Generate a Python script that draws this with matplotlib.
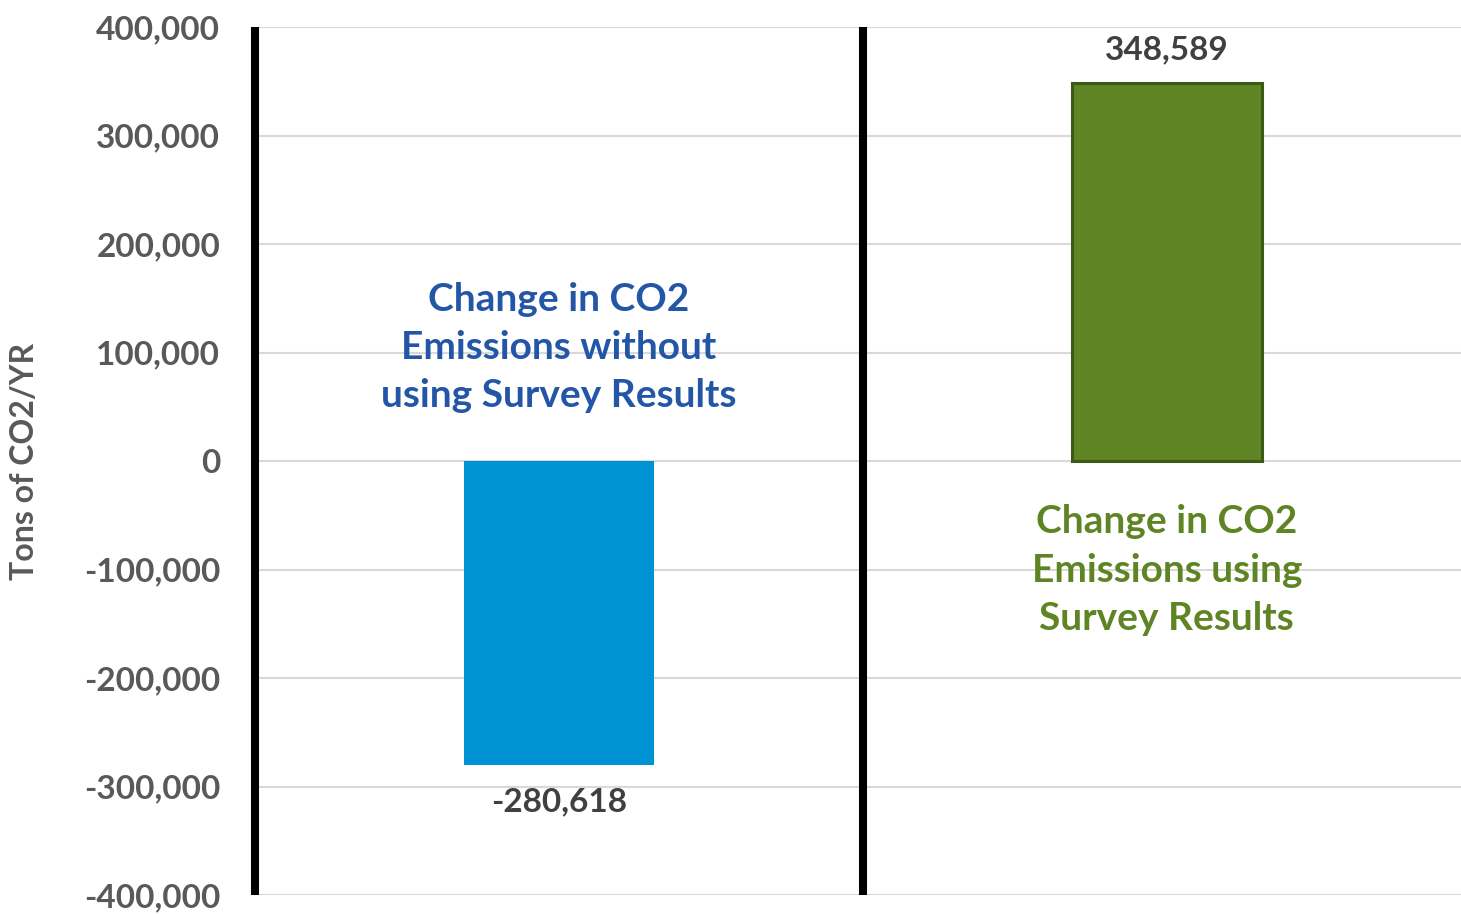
import matplotlib
matplotlib.use("Agg")
import matplotlib.pyplot as plt
from matplotlib.ticker import FuncFormatter

categories = ["Change in CO2\nEmissions without\nusing Survey Results",
              "Change in CO2\nEmissions using\nSurvey Results"]
values = [-280618, 348589]
bar_colors = ["#0093D3", "#5E8424"]
edge_colors = ["#0093D3", "#3B5A17"]
edge_widths = [0, 2.2]
text_colors = ["#2356A6", "#5E8424"]
yticks = list(range(-400000, 400001, 100000))

plt.rcParams['font.family'] = ['Lato', 'DejaVu Sans']
plt.rcParams['font.weight'] = 'bold'

fig = plt.figure(figsize=(14.61, 9.14), dpi=100)
W, H = 1461, 914
ax = fig.add_axes([255 / W, (H - 895) / H, (1461 - 255) / W, (895 - 27) / H])

x = [0, 1]
for xi, v, c, ec, lw in zip(x, values, bar_colors, edge_colors, edge_widths):
    ax.bar(xi, v, width=0.3125, color=c, edgecolor=ec, linewidth=lw, zorder=3)

ax.set_xlim(-0.5, 1.484)
ax.set_ylim(-400000, 400000)
ax.set_yticks(yticks)
ax.yaxis.set_major_formatter(FuncFormatter(lambda v, p: f"{int(v):,}"))
ax.grid(axis='y', color='#D9D9D9', linewidth=1.5, zorder=0)
ax.set_xticks([])
ax.tick_params(axis='y', length=0, pad=25, labelsize=24, labelcolor='#595959')
for lab in ax.get_yticklabels():
    lab.set_fontweight('bold')

for s in ['top', 'right', 'bottom']:
    ax.spines[s].set_visible(False)
ax.spines['left'].set_linewidth(5.8)
ax.spines['left'].set_color('black')
ax.spines['left'].set_capstyle('butt')
ax.spines['left'].set_zorder(5)
ax.axvline(0.5, color='black', linewidth=5.8, zorder=5, solid_capstyle='butt')

ax.set_ylabel("Tons of CO2/YR", fontsize=23, color='#595959', fontweight='bold', labelpad=32)

# data labels
ax.text(0, values[0] - 20000, f"{values[0]:,}", ha='center', va='top',
        fontsize=24, color='#404040', fontweight='bold')
ax.text(1, values[1] + 17000, f"{values[1]:,}", ha='center', va='bottom',
        fontsize=24, color='#404040', fontweight='bold')

# category annotations
ax.text(0, 105000, categories[0], ha='center', va='center', fontsize=28,
        color=text_colors[0], fontweight='bold', linespacing=1.45)
ax.text(1, -100500, categories[1], ha='center', va='center', fontsize=28,
        color=text_colors[1], fontweight='bold', linespacing=1.45)

fig.savefig("out.png", dpi=100)
